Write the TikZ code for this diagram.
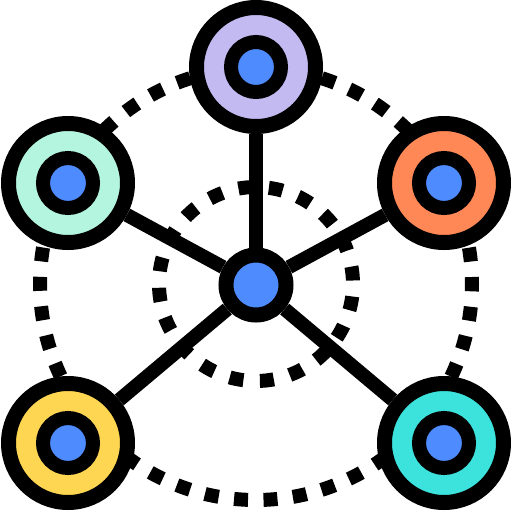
\documentclass[tikz,border=0pt]{standalone}
\usetikzlibrary{positioning}
\definecolor{lavender}{RGB}{196,186,242}
\definecolor{mint}{RGB}{180,245,224}
\definecolor{coral}{RGB}{255,136,86}
\definecolor{sun}{RGB}{255,214,82}
\definecolor{aqua}{RGB}{60,226,220}
\definecolor{dotblue}{RGB}{77,139,255}
\tikzset{
	ring/.style = {circle, draw, line width=15pt, minimum size=119pt, inner sep=0,
		path picture={\draw[line width=14pt, fill=dotblue] (path picture bounding box.center) circle (25pt);}},
	hubnode/.style = {circle, draw, fill=dotblue, line width=15pt, minimum size=60pt, inner sep=0},
	spoke/.style = {line width=14pt},
}

\begin{document}
\begin{tikzpicture}[x=1pt, y=-1pt,
	outerdots/.style = {line width=14pt, dash pattern=on 14pt off 15.5pt, dash phase=7pt},
	innerdots/.style = {line width=14pt, dash pattern=on 14pt off 16.5pt, dash phase=27pt}]
\useasboundingbox (0,0) rectangle (512,512);
\coordinate (mid) at (256,284);
% dotted orbits
\draw[outerdots] (mid) circle (216pt);
\draw[innerdots] (mid) circle (97pt);
% hub and satellites
\node[hubnode] (hub) at (256,285) {};
\node[ring, fill=lavender] (top) at (256,67) {};
\node[ring, fill=mint] (left) at (68,183) {};
\node[ring, fill=coral] (right) at (444,183) {};
\node[ring, fill=sun] (lowleft) at (68,443) {};
\node[ring, fill=aqua] (lowright) at (444,443) {};
% spokes
\foreach \n in {top,left,right,lowleft,lowright}
	\draw[spoke] (hub) -- (\n);
\end{tikzpicture}
\end{document}
